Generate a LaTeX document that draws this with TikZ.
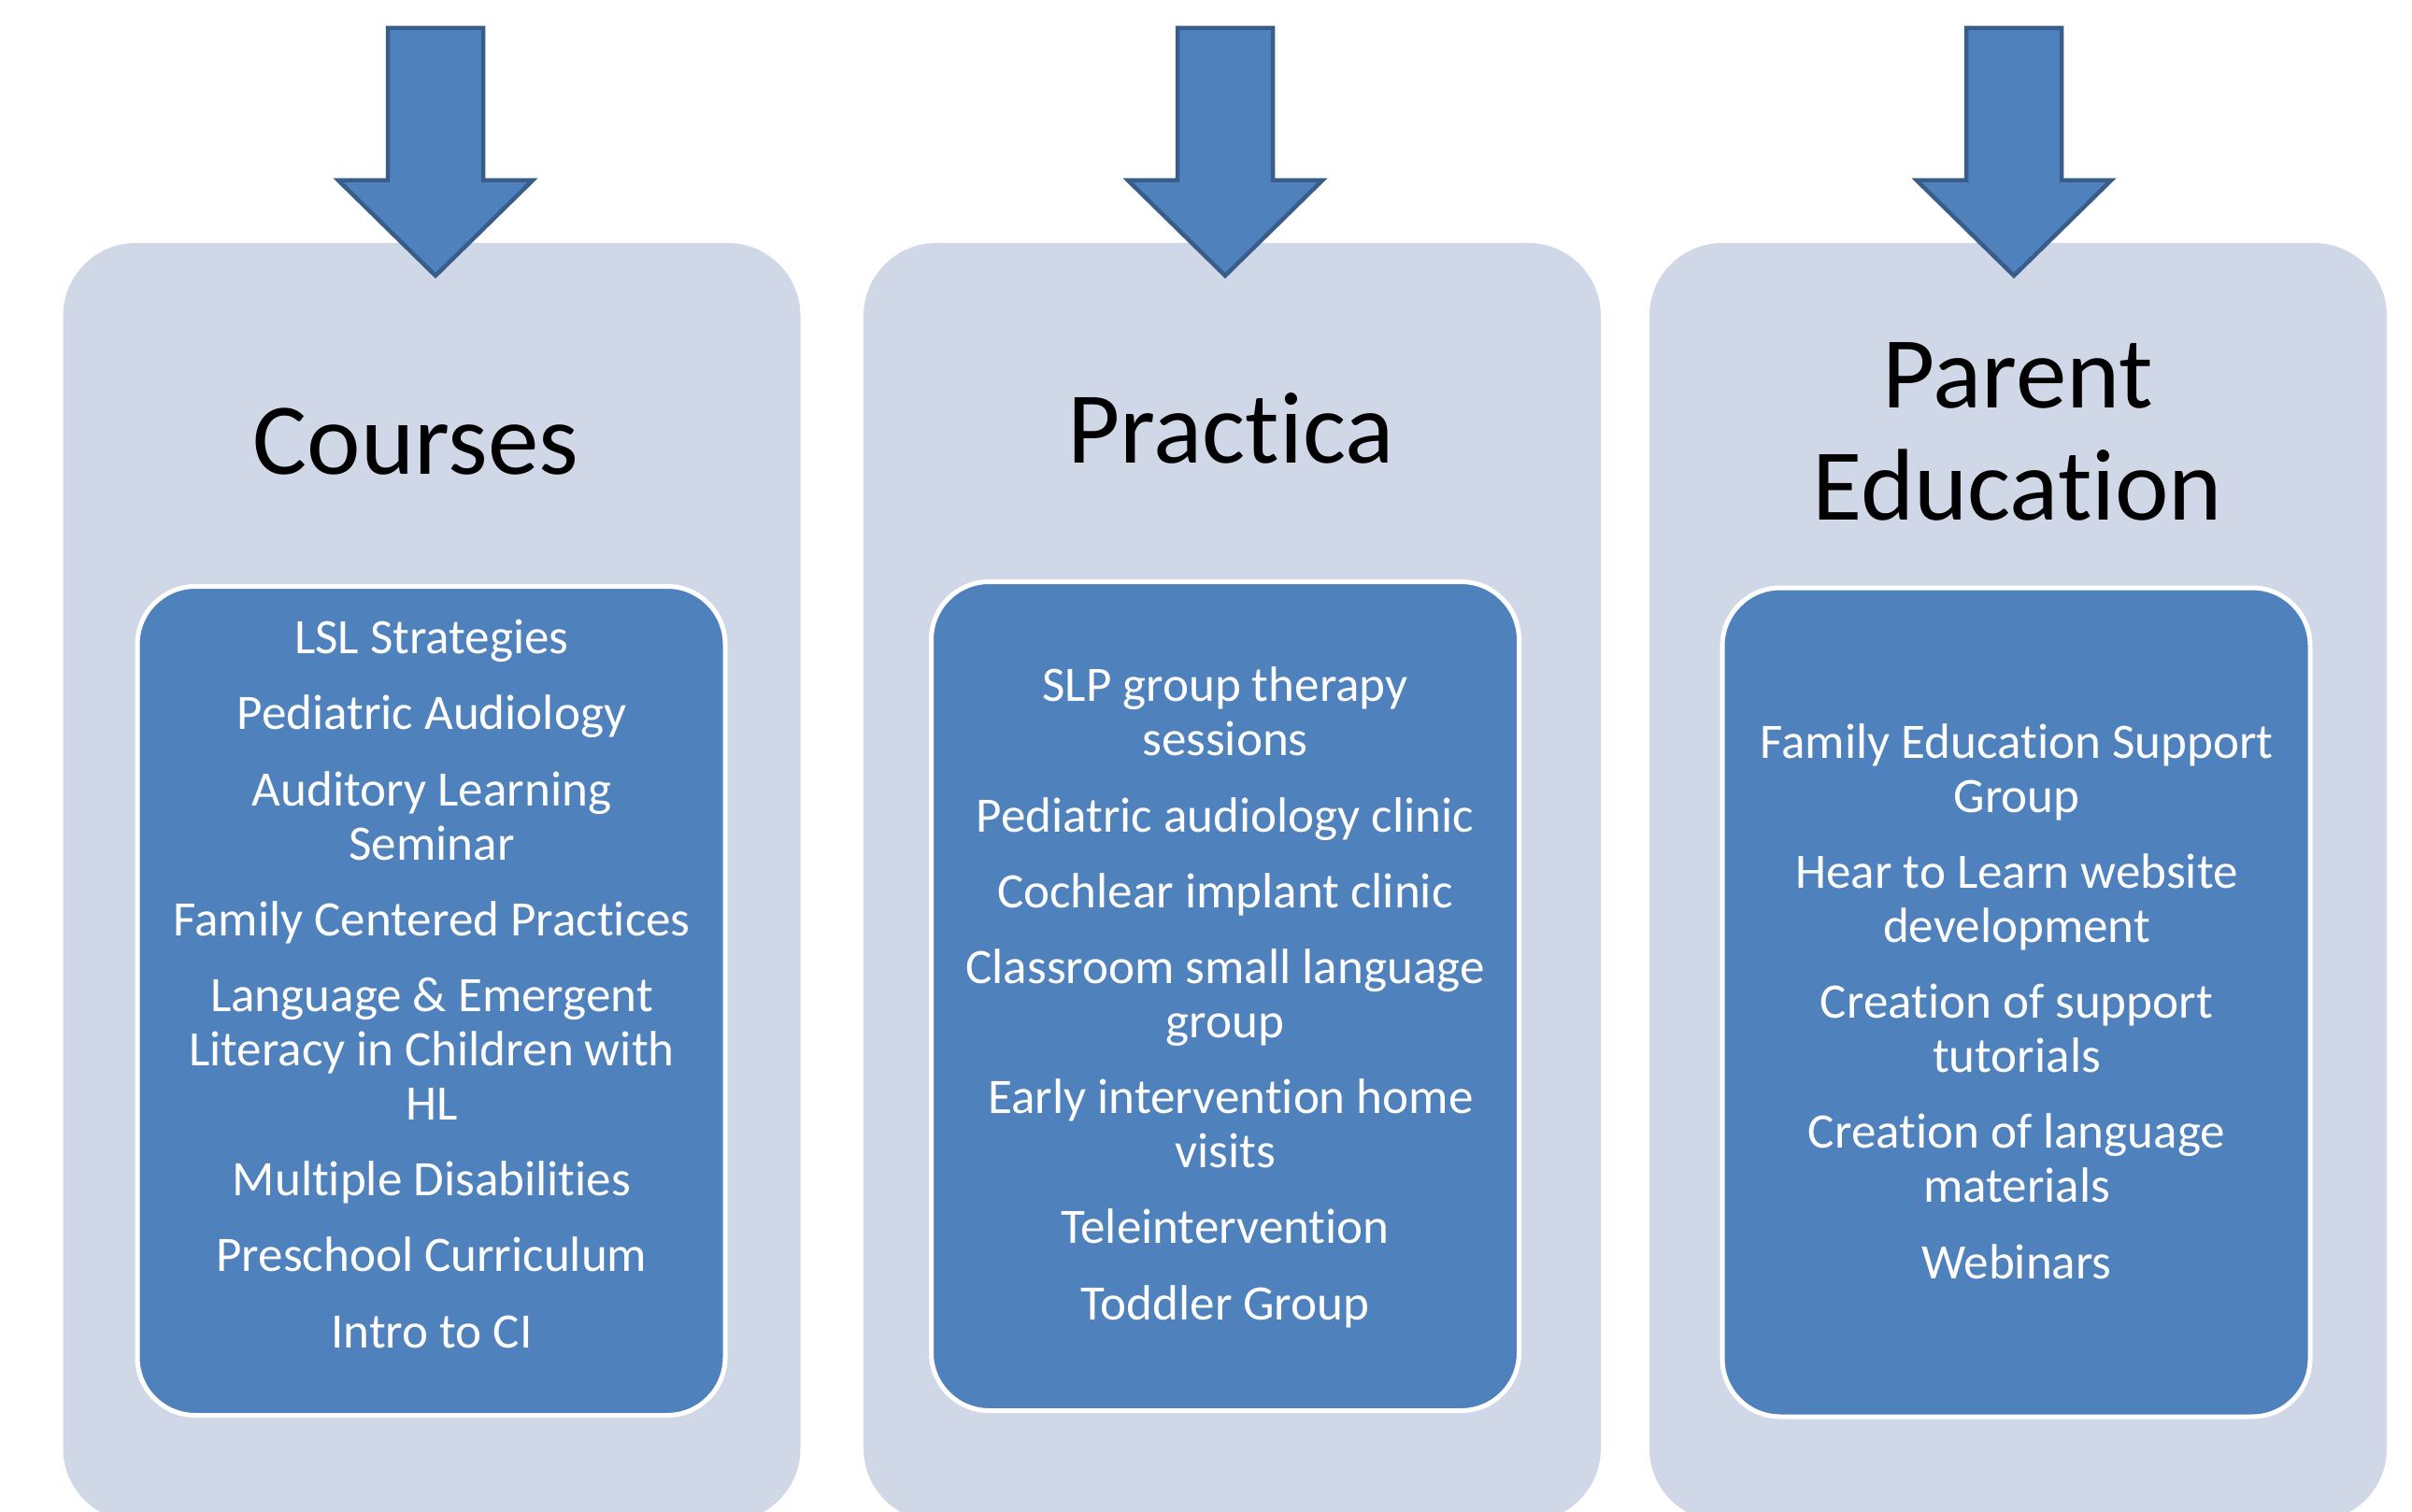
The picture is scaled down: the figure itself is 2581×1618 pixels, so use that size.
\documentclass[tikz,border=0pt]{standalone}
\usepackage{fontspec}
\setmainfont{Carlito}[Ligatures=NoCommon]
\definecolor{pnl}{HTML}{D0D8E8}
\definecolor{acc}{HTML}{4F81BD}
\definecolor{acd}{HTML}{385D8A}
\newcommand\itemgap{6.6pt}
\tikzset{%
  panel/.style={fill=pnl,rounded corners=7.8mm,inner sep=0pt,minimum width=78.9mm,minimum height=136.8mm},
  itembox/.style={draw=white,line width=0.5mm,fill=acc,rounded corners=6.2mm,inner sep=0pt,minimum width=62.9mm,minimum height=88.7mm},
  itemlist/.style={text=white,align=center,inner sep=0pt,font=\fontsize{15.1}{16.5}\selectfont},
  title/.style={align=center,inner sep=0pt,font=\fontsize{31}{33.9}\selectfont},
  arrowshape/.style={fill=acc,draw=acd,line width=0.45mm,line join=miter}
}
\NewDocumentCommand\blockarrow{m}{%
  \begin{scope}[shift={(#1,0)}]
    \filldraw[arrowshape] (-51,30) -- (51,30) -- (51,193) -- (104,193) -- (0,295) -- (-104,193) -- (-51,193) -- cycle;
  \end{scope}
}

\begin{document}
\begin{tikzpicture}[x=0.1mm,y=-0.1mm]
  \clip (0,0) rectangle (2581,1618);
  \fill[white] (0,0) rectangle (2581,1618);
  %% panels
  \node[panel] (pcourses) at (462,944) {};
  \node[panel] (ppractica) at (1318.5,944) {};
  \node[panel] (pparent) at (2159.5,944) {};
  %% arrows
  \blockarrow{466}
  \blockarrow{1311}
  \blockarrow{2155}
  %% titles (base = last line)
  \node[title,anchor=base] (tcourses) at (445,507) {Courses};
  \node[title,anchor=base] (tpractica) at (1317,495) {Practica};
  \node[title,anchor=base] (tparent) at (2159,556) {Parent\\Education};
  %% item boxes
  \node[itembox] (bcourses) at (461.5,1071) {};
  \node[itembox] (bpractica) at (1311,1066) {};
  \node[itembox] (bparent) at (2157.5,1072.5) {};
  \node[itemlist,anchor=base] (lcourses) at (462,1442) {LSL Strategies\\[\itemgap]
    Pediatric Audiology\\[\itemgap]
    Auditory Learning\\Seminar\\[\itemgap]
    Family Centered Practices\\[\itemgap]
    Language \& Emergent\\Literacy in Children with\\HL\\[\itemgap]
    Multiple Disabilities\\[\itemgap]
    Preschool Curriculum\\[\itemgap]
    Intro to CI};
  \node[itemlist,anchor=base] (lpractica) at (1311,1412) {SLP group therapy\\sessions\\[\itemgap]
    Pediatric audiology clinic\\[\itemgap]
    Cochlear implant clinic\\[\itemgap]
    Classroom small language\\group\\[\itemgap]
    \ Early intervention home\\visits\\[\itemgap]
    Teleintervention\\[\itemgap]
    Toddler Group};
  \node[itemlist,anchor=base] (lparent) at (2158,1368) {Family Education Support\\Group\\[\itemgap]
    Hear to Learn website\\development\\[\itemgap]
    Creation of support\\tutorials\\[\itemgap]
    Creation of language\\materials\\[\itemgap]
    Webinars};
\end{tikzpicture}
\end{document}
